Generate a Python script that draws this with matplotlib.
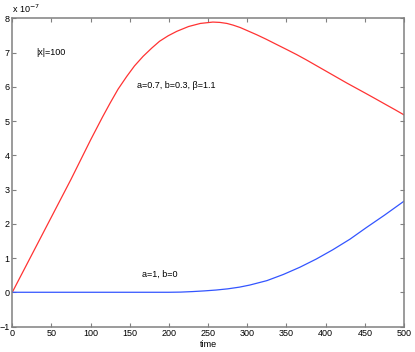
import matplotlib
matplotlib.use('Agg')
import matplotlib.pyplot as plt

plt.rcParams['font.family'] = ['Liberation Sans', 'DejaVu Sans']

# red curve: a=0.7, b=0.3, beta=1.1  (values in units of 1e-7)
t_red = [0, 25, 50, 75, 100, 115, 125, 135, 146, 156, 167, 178, 188, 199,
         210, 225, 240, 256, 265, 274, 282, 291, 301, 312, 324, 337, 351,
         363, 375, 388, 401, 414, 427, 439, 451, 464, 478, 489, 500]
v_red = [0, 1.1, 2.2, 3.3, 4.45, 5.11, 5.53, 5.93, 6.3, 6.61, 6.89, 7.13,
         7.33, 7.49, 7.62, 7.76, 7.85, 7.89, 7.88, 7.85, 7.8, 7.73, 7.63,
         7.52, 7.39, 7.24, 7.08, 6.94, 6.79, 6.62, 6.45, 6.28, 6.11, 5.96,
         5.81, 5.645, 5.465, 5.325, 5.18]

# blue curve: a=1, b=0
t_blue = [0, 50, 100, 150, 200, 215, 230, 245, 260, 275, 290, 303, 325,
          346, 367, 388, 409, 431, 452, 475, 500]
v_blue = [0, 0, 0, 0, 0, 0.005, 0.02, 0.04, 0.065, 0.1, 0.15, 0.21, 0.34,
          0.52, 0.73, 0.97, 1.24, 1.55, 1.89, 2.25, 2.66]

xticks = list(range(0, 501, 50))
yticks = list(range(-1, 9))

fig = plt.figure(figsize=(4.15, 3.52), dpi=100)
ax = fig.add_axes([0.0296, 0.0724, 0.9439, 0.8756])

ax.plot(t_red, v_red, color='#ff3333', lw=0.9)
ax.plot(t_blue, v_blue, color='#3355ff', lw=0.9)

ax.set_xlim(0, 500)
ax.set_ylim(-1, 8)
ax.set_xticks(xticks)
ax.set_yticks(yticks)
ax.tick_params(direction='in', length=3, width=0.8, color='#808080',
               labelsize=6.5, top=True, right=True, pad=2)
for s in ax.spines.values():
    s.set_color('#808080')
    s.set_linewidth(1.1)

ax.set_xlabel('time', fontsize=6.5, labelpad=1)
ax.text(0.0, 1.012, r'x 10$^{-7}$', transform=ax.transAxes, fontsize=6.5,
        va='bottom', ha='left')

ax.text(31, 7.0, '|x|=100', fontsize=6.5, va='center', ha='left')
ax.text(159, 6.03, 'a=0.7, b=0.3, β=1.1', fontsize=6.5, va='center', ha='left')
ax.text(165, 0.53, 'a=1, b=0', fontsize=6.5, va='center', ha='left')

fig.savefig('out.png', dpi=100)
